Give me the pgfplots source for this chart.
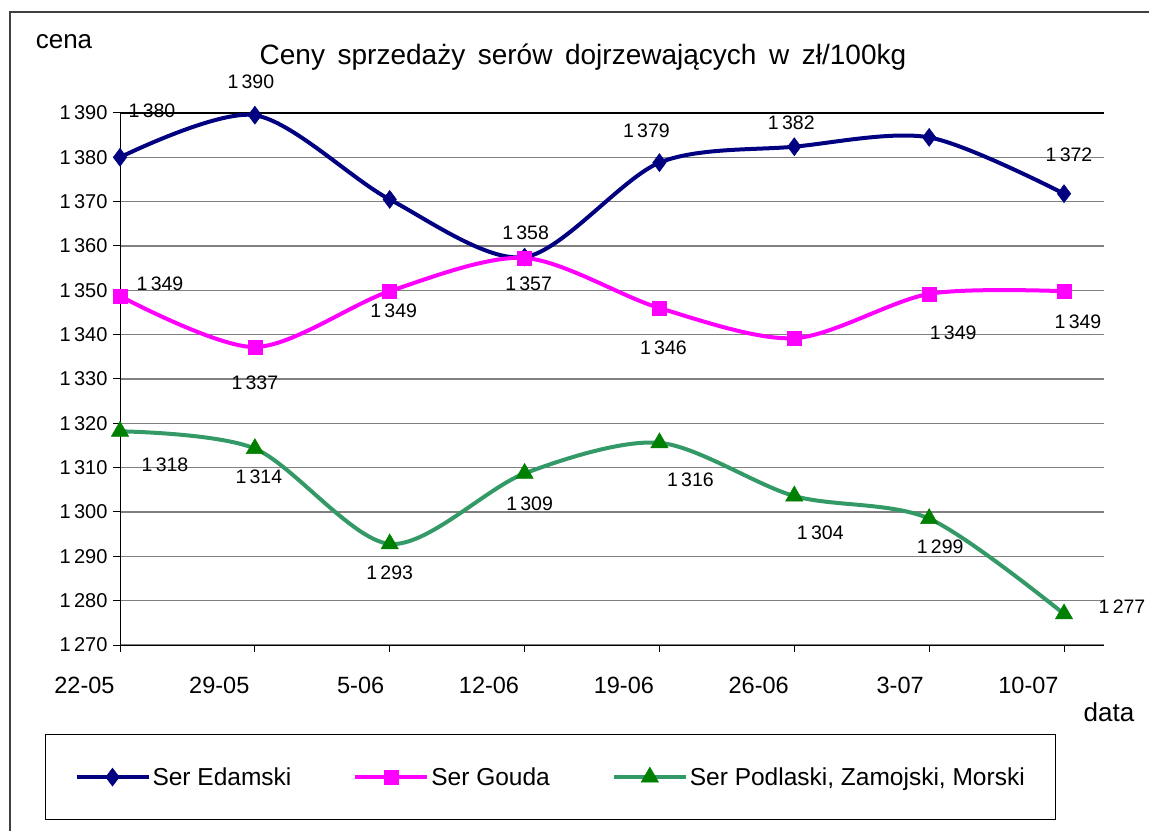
\documentclass[border=0pt]{standalone}
\usepackage{pgfplots}
\pgfplotsset{compat=1.18}
\usepackage{fontspec}
\setmainfont{Liberation Sans}
\definecolor{edam}{RGB}{0,0,128}
\definecolor{gouda}{RGB}{255,0,255}
\definecolor{podl}{RGB}{51,153,102}
\definecolor{podlm}{RGB}{0,128,0}
\newcommand\lab{\fontsize{19.5bp}{21bp}\selectfont}
\begin{document}
\begin{tikzpicture}
\path[use as bounding box] (0,0) rectangle (1149bp,831bp);
\draw[line width=1.5bp,black!75] (10bp,-5bp) -- (10bp,819bp) -- (1160bp,819bp);
\node[font=\fontsize{28bp}{30bp}\selectfont] at (583bp,774bp) {\spaceskip=0.45em Ceny sprzedaży serów dojrzewających w zł/100kg};
\node[font=\fontsize{26bp}{28bp}\selectfont] at (64bp,789bp) {cena};
\node[font=\fontsize{26bp}{28bp}\selectfont] at (1109bp,119bp) {data};
\begin{axis}[
  at={(120bp,186bp)}, anchor=south west,
  scale only axis, width=984bp, height=532bp,
  xmin=0, xmax=7.2965, ymin=1270, ymax=1390,
  axis x line*=bottom, axis y line*=left,
  axis line style={line width=1bp,black,-},
  xtick={0,...,7},
  xticklabels={22-05,29-05,5-06,12-06,19-06,26-06,3-07,10-07},
  ytick={1270,1280,...,1380},
  yticklabels={1\,270,1\,280,1\,290,1\,300,1\,310,1\,320,1\,330,1\,340,1\,350,1\,360,1\,370,1\,380},
  extra y ticks={1390}, extra y tick labels={1\,390},
  extra y tick style={grid style={line width=1.2bp,black}},
  tick align=outside, major tick length=7bp,
  tick style={line width=1bp,black},
  ymajorgrids, grid style={line width=1.2bp,black!50},
  xticklabel style={font=\fontsize{23.5bp}{25bp}\selectfont, anchor=north east, yshift=-22bp, xshift=-2bp},
  yticklabel style={font=\fontsize{20bp}{22bp}\selectfont, xshift=-2bp},
  clip=false,
  legend columns=3,
  legend style={at={(-0.0762,-0.1673)}, anchor=north west, draw=black, line width=1bp,
    font=\fontsize{24.5bp}{26bp}\selectfont, inner xsep=29bp, inner ysep=31bp,
    /tikz/every even column/.style={column sep=60bp}},
  legend image code/.code={\draw[mark repeat=2,mark phase=2] plot coordinates {(0bp,0bp) (36bp,0bp) (72bp,0bp)};},
]
\addplot[edam, line width=4bp, smooth, mark=diamond*, mark size=9bp, mark options={line width=0.5bp}]
  coordinates {(0,1380) (1,1389.5) (2,1370.5) (3,1357.5) (4,1378.8) (5,1382.4) (6,1384.5) (7,1371.8)};
\addlegendentry{Ser Edamski}
\addplot[gouda, line width=4bp, smooth, mark=square*, mark size=7bp, mark options={line width=0.5bp}]
  coordinates {(0,1348.7) (1,1337.2) (2,1349.8) (3,1357.3) (4,1346) (5,1339.2) (6,1349.2) (7,1349.8)};
\addlegendentry{Ser Gouda}
\addplot[podl, line width=4bp, smooth, mark=triangle*, mark size=10bp, mark options={podlm, line width=0.5bp}]
  coordinates {(0,1318.2) (1,1314.3) (2,1292.8) (3,1308.7) (4,1315.6) (5,1303.6) (6,1298.5) (7,1277)};
\addlegendentry{Ser Podlaski, Zamojski, Morski}
% data labels
\node[font=\lab, xshift=32bp, yshift=47bp] at (axis cs:0,1380) {1\,380};
\node[font=\lab, xshift=-4bp, yshift=33bp] at (axis cs:1,1389.5) {1\,390};
\node[font=\lab, xshift=1bp, yshift=24bp] at (axis cs:3,1357.5) {1\,358};
\node[font=\lab, xshift=-13bp, yshift=32bp] at (axis cs:4,1378.8) {1\,379};
\node[font=\lab, xshift=-3bp, yshift=24bp] at (axis cs:5,1382.4) {1\,382};
\node[font=\lab, xshift=5bp, yshift=39bp] at (axis cs:7,1371.8) {1\,372};
\node[font=\lab, xshift=40bp, yshift=12bp] at (axis cs:0,1348.7) {1\,349};
\node[font=\lab, xshift=0bp, yshift=-36bp] at (axis cs:1,1337.2) {1\,337};
\node[font=\lab, xshift=4bp, yshift=-20bp] at (axis cs:2,1349.8) {1\,349};
\node[font=\lab, xshift=4bp, yshift=-26bp] at (axis cs:3,1357.3) {1\,357};
\node[font=\lab, xshift=4bp, yshift=-40bp] at (axis cs:4,1346) {1\,346};
\node[font=\lab, xshift=24bp, yshift=-39bp] at (axis cs:6,1349.2) {1\,349};
\node[font=\lab, xshift=14bp, yshift=-31bp] at (axis cs:7,1349.8) {1\,349};
\node[font=\lab, xshift=45bp, yshift=-33bp] at (axis cs:0,1318.2) {1\,318};
\node[font=\lab, xshift=4bp, yshift=-28bp] at (axis cs:1,1314.3) {1\,314};
\node[font=\lab, xshift=0bp, yshift=-29bp] at (axis cs:2,1292.8) {1\,293};
\node[font=\lab, xshift=5bp, yshift=-30bp] at (axis cs:3,1308.7) {1\,309};
\node[font=\lab, xshift=31bp, yshift=-37bp] at (axis cs:4,1315.6) {1\,316};
\node[font=\lab, xshift=26bp, yshift=-37bp] at (axis cs:5,1303.6) {1\,304};
\node[font=\lab, xshift=11bp, yshift=-28bp] at (axis cs:6,1298.5) {1\,299};
\node[font=\lab, xshift=58bp, yshift=7bp] at (axis cs:7,1277) {1\,277};
\end{axis}
\end{tikzpicture}
\end{document}
